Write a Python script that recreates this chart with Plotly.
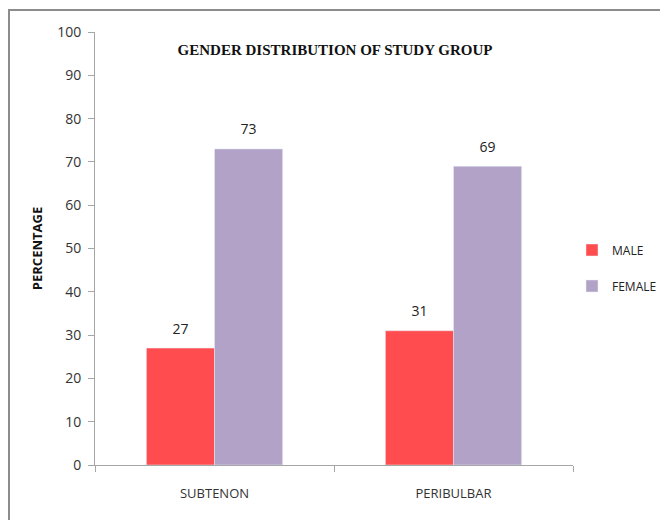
import plotly.graph_objects as go

categories = ["SUBTENON", "PERIBULBAR"]
male = [27, 31]
female = [73, 69]
y_ticks = [0, 10, 20, 30, 40, 50, 60, 70, 80, 90, 100]

# page body has an 8px margin; figure is placed at (8, 8) in the window
OFF = 8
W, H = 660, 512
L, R, T, B = 87, 95, 24, 55
pw = W - L - R
ph = H - T - B

def px_x(px):
    return (px - OFF - L) / pw

def px_y(py):
    return (H - B - (py - OFF)) / ph

label_font = dict(family="Open Sans", size=14, color="#222222")

fig = go.Figure()
fig.add_trace(go.Bar(name="MALE", x=categories, y=male, marker_color="#FF4D4F",
                     legendgroup="m", offsetgroup="m"))
fig.add_trace(go.Bar(name="FEMALE", x=categories, y=female, marker_color="#B3A2C7",
                     legendgroup="f", offsetgroup="f"))
# value labels (invisible markers give the extra gap above the bars)
fig.add_trace(go.Scatter(x=categories, y=male, mode="markers+text", text=male,
                         textposition="top center", textfont=label_font,
                         marker=dict(size=16, color="rgba(0,0,0,0)"),
                         offsetgroup="m", showlegend=False, hoverinfo="skip",
                         cliponaxis=False))
fig.add_trace(go.Scatter(x=categories, y=female, mode="markers+text", text=female,
                         textposition="top center", textfont=label_font,
                         marker=dict(size=16, color="rgba(0,0,0,0)"),
                         offsetgroup="f", showlegend=False, hoverinfo="skip",
                         cliponaxis=False))

fig.update_layout(
    width=W, height=H,
    margin=dict(l=L, r=R, t=T, b=B, autoexpand=False),
    paper_bgcolor="white", plot_bgcolor="white",
    barmode="group", bargap=0.43, bargroupgap=0,
    scattermode="group", scattergap=0.43,
    font=dict(family="Open Sans", size=13, color="#333333"),
    title=dict(text="<b>GENDER DISTRIBUTION OF STUDY GROUP</b>",
               font=dict(family="Liberation Serif", size=15, color="#111111"),
               x=px_x(335), xref="paper", xanchor="center",
               y=1 - (50 - OFF) / H, yref="container", yanchor="middle"),
    legend=dict(x=px_x(572), y=px_y(268), xanchor="left", yanchor="middle",
                font=dict(family="Open Sans", size=12, color="#222222"),
                traceorder="grouped", tracegroupgap=17, itemwidth=30,
                bgcolor="rgba(0,0,0,0)"),
    showlegend=True,
    xaxis=dict(showline=True, linecolor="#A6A6A6", linewidth=1,
               ticks="outside", tickson="boundaries", ticklen=6, tickcolor="#A6A6A6",
               ticklabelstandoff=16,
               tickfont=dict(family="Open Sans", size=13, color="#333333"),
               showgrid=False),
    yaxis=dict(range=[0, 100], tickvals=y_ticks, showline=True, linecolor="#A6A6A6",
               linewidth=1, ticks="outside", ticklen=6, tickcolor="#A6A6A6",
               ticklabelstandoff=4,
               tickfont=dict(family="Open Sans", size=14, color="#333333"),
               showgrid=False, zeroline=False,
               title=dict(text="<b>PERCENTAGE</b>", standoff=11,
                          font=dict(family="Open Sans", size=13, color="#111111"))),
    shapes=[dict(type="rect", xref="paper", yref="paper",
                 x0=-(L - 1) / pw, x1=(W - L + 20) / pw,
                 y0=-(B + 20) / ph, y1=1 + (T - 2) / ph,
                 line=dict(color="#8C8C8C", width=2), fillcolor="rgba(0,0,0,0)",
                 layer="below")],
)

fig.write_html("out.html")
